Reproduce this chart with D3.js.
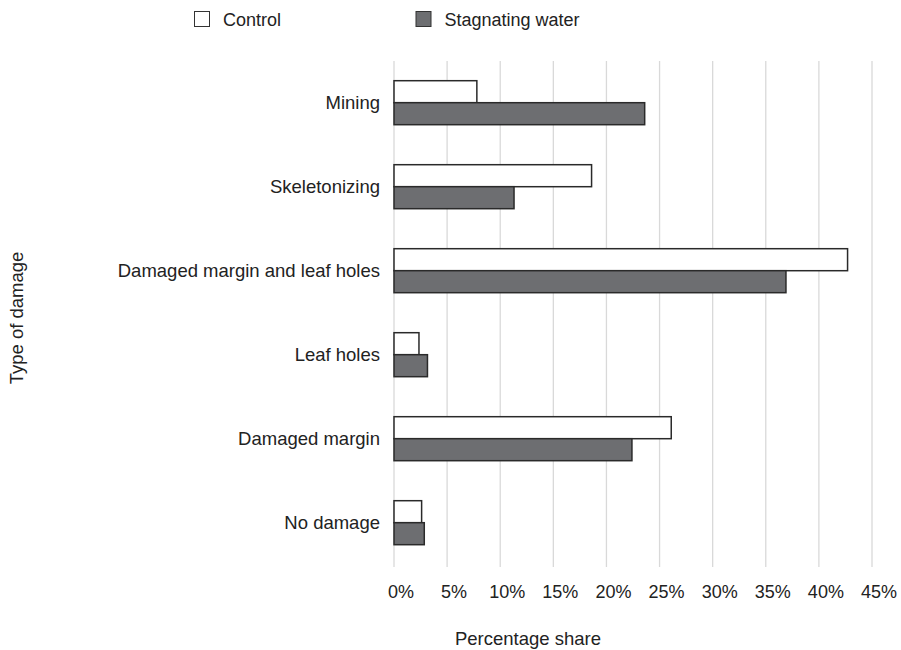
<!DOCTYPE html>
<html><head><meta charset="utf-8">
<script src="https://cdn.jsdelivr.net/npm/d3@7"></script>
<style>body{margin:0;background:#fff}svg{display:block}text{font-family:"Liberation Sans",Arial,sans-serif;fill:#222}</style>
</head><body>
<script>
const categories = ["Mining","Skeletonizing","Damaged margin and leaf holes","Leaf holes","Damaged margin","No damage"];
const seriesNames = ["Control","Stagnating water"];
const controlValues = [7.8, 18.6, 42.7, 2.35, 26.1, 2.6];
const stagnatingValues = [23.6, 11.3, 36.9, 3.15, 22.4, 2.85];
const tickValues = [0,5,10,15,20,25,30,35,40,45];
const tickLabels = ["0%","5%","10%","15%","20%","25%","30%","35%","40%","45%"];

const W = 901, H = 650;
const svg = d3.select("body").append("svg").attr("width", W).attr("height", H);
const fills = ["#ffffff", "#6d6e71"];
const stroke = "#2a2a2a";

const x = d3.scaleLinear().domain([0,45]).range([394,872]);
const y = d3.scaleBand().domain(categories).range([60.7,564.7]).paddingInner(0).paddingOuter(0);
const ySub = d3.scaleBand().domain(seriesNames).range([y.bandwidth()/2-22, y.bandwidth()/2+22]);

// gridlines
svg.append("g").selectAll("line").data(tickValues).join("line")
  .attr("x1", d=>x(d)).attr("x2", d=>x(d)).attr("y1", 61).attr("y2", 567)
  .attr("stroke", "#d9d9d9").attr("stroke-width", 1.3);

// x axis labels
const xAxis = d3.axisBottom(x).tickValues(tickValues).tickFormat((d,i)=>tickLabels[i]).tickSize(0);
const xg = svg.append("g").attr("transform","translate(0,594.5)").call(xAxis);
xg.select(".domain").remove();
xg.selectAll("text").attr("font-size","18px").attr("fill","#222").attr("dx","6.5px").attr("dy","0.0em")
  .attr("font-family","Liberation Sans, Arial, sans-serif");

// y axis labels
const yAxis = d3.axisLeft(y).tickSize(0).tickPadding(14);
const yg = svg.append("g").attr("transform","translate(394,0)").call(yAxis);
yg.select(".domain").remove();
yg.selectAll("text").attr("font-size","18.5px").attr("fill","#222")
  .attr("font-family","Liberation Sans, Arial, sans-serif");

// bars
const data = categories.map((c,i)=>({cat:c, vals:[controlValues[i], stagnatingValues[i]]}));
const grp = svg.append("g").selectAll("g").data(data).join("g")
  .attr("transform", d=>`translate(0,${y(d.cat)})`);
grp.selectAll("rect").data(d=>d.vals.map((v,j)=>({v, s:seriesNames[j], j}))).join("rect")
  .attr("x", x(0)).attr("y", d=>ySub(d.s))
  .attr("width", d=>x(d.v)-x(0)).attr("height", ySub.bandwidth())
  .attr("fill", d=>fills[d.j]).attr("stroke", stroke).attr("stroke-width", 1.5);

// legend
const legX = [194, 415.5];
const leg = svg.append("g").selectAll("g").data(seriesNames).join("g")
  .attr("transform", (d,i)=>`translate(${legX[i]},11)`);
leg.append("rect").attr("x",0.5).attr("y",0.5).attr("width",15).attr("height",15)
  .attr("fill",(d,i)=>fills[i]).attr("stroke","#333").attr("stroke-width",1);
leg.append("text").attr("x",29).attr("y",14.5).attr("font-size","18px").text(d=>d);

// axis titles
svg.append("text").attr("x",528).attr("y",645).attr("text-anchor","middle")
  .attr("font-size","18.5px").text("Percentage share");
svg.append("text").attr("transform","translate(23,318) rotate(-90)").attr("text-anchor","middle")
  .attr("font-size","18.5px").text("Type of damage");
</script>
</body></html>
